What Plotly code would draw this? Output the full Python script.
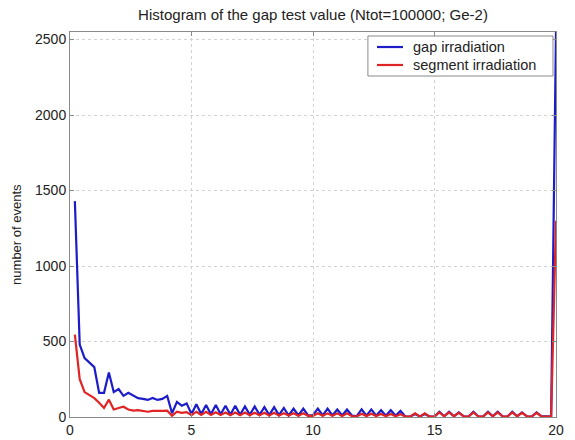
import plotly.graph_objects as go

x_bins = [0.2, 0.4, 0.6, 0.8, 1.0, 1.2, 1.4, 1.6, 1.8, 2.0,
          2.2, 2.4, 2.6, 2.8, 3.0, 3.2, 3.4, 3.6, 3.8, 4.0,
          4.2, 4.4, 4.6, 4.8, 5.0, 5.2, 5.4, 5.6, 5.8, 6.0,
          6.2, 6.4, 6.6, 6.8, 7.0, 7.2, 7.4, 7.6, 7.8, 8.0,
          8.2, 8.4, 8.6, 8.8, 9.0, 9.2, 9.4, 9.6, 9.8, 10.0,
          10.2, 10.4, 10.6, 10.8, 11.0, 11.2, 11.4, 11.6, 11.8, 12.0,
          12.2, 12.4, 12.6, 12.8, 13.0, 13.2, 13.4, 13.6, 13.8, 14.0,
          14.2, 14.4, 14.6, 14.8, 15.0, 15.2, 15.4, 15.6, 15.8, 16.0,
          16.2, 16.4, 16.6, 16.8, 17.0, 17.2, 17.4, 17.6, 17.8, 18.0,
          18.2, 18.4, 18.6, 18.8, 19.0, 19.2, 19.4, 19.6, 19.8, 20.0]

gap_irradiation = [1430, 480, 390, 360, 330, 160, 160, 295, 165, 185,
                   140, 160, 140, 125, 120, 113, 126, 113, 120, 140,
                   25, 100, 75, 90, 20, 85, 20, 80, 18, 80,
                   18, 75, 15, 75, 15, 70, 15, 70, 15, 65,
                   12, 65, 12, 60, 10, 55, 10, 55, 10, 12,
                   55, 10, 55, 10, 50, 10, 50, 10, 6, 50,
                   8, 50, 8, 45, 8, 45, 8, 40, 3, 3,
                   20, 3, 20, 3, 3, 35, 5, 35, 5, 30,
                   5, 3, 35, 5, 3, 35, 5, 35, 5, 3,
                   35, 5, 30, 5, 3, 30, 5, 3, 5, 2550]

segment_irradiation = [545, 250, 165, 145, 125, 95, 60, 115, 50, 60,
                       68, 50, 42, 45, 40, 35, 40, 38, 40, 42,
                       8, 35, 28, 32, 12, 35, 14, 35, 14, 32,
                       14, 30, 12, 30, 12, 30, 12, 28, 12, 28,
                       10, 28, 10, 25, 10, 25, 8, 25, 8, 8,
                       25, 8, 24, 8, 24, 6, 24, 6, 4, 22,
                       6, 22, 6, 20, 5, 20, 5, 18, 3, 3,
                       25, 3, 25, 3, 3, 30, 5, 30, 5, 28,
                       5, 3, 30, 5, 3, 30, 5, 30, 5, 3,
                       30, 5, 28, 5, 3, 28, 5, 3, 5, 1300]

series_names = ["gap irradiation", "segment irradiation"]
series_colors = ["#1c1cc8", "#e02424"]

x_ticks = [0, 5, 10, 15, 20]
y_ticks = [0, 500, 1000, 1500, 2000, 2500]

FONT = "Liberation Sans, Arial, sans-serif"

fig = go.Figure()
for name, ys, col in zip(series_names, [gap_irradiation, segment_irradiation], series_colors):
    fig.add_trace(go.Scatter(x=x_bins, y=ys, mode="lines", name=name,
                             line=dict(color=col, width=2.2)))

axis_common = dict(showline=True, linecolor="#8a8a8a", linewidth=1, mirror="ticks",
                   ticks="inside", ticklen=4, tickcolor="#8a8a8a",
                   showgrid=True, gridcolor="#d2d2d2", griddash="dot", gridwidth=1,
                   zeroline=False, automargin=False,
                   tickfont=dict(family=FONT, size=14, color="#222"))

fig.update_xaxes(range=[0, 20], tickvals=x_ticks, **axis_common)
fig.update_yaxes(range=[0, 2550], tickvals=y_ticks, **axis_common)

# legend box drawn in paper coordinates (matlab-style compact legend)
L_X0, L_X1, L_Y0, L_Y1 = 0.613, 0.9938, 0.8857, 0.9896
LINE_X0, LINE_X1, TEXT_X = 0.6317, 0.6852, 0.7037
ROW_Y = [0.961, 0.9143]

shapes = [dict(type="rect", xref="paper", yref="paper", x0=L_X0, x1=L_X1, y0=L_Y0, y1=L_Y1,
               line=dict(color="#8a8a8a", width=1), fillcolor="white", layer="above")]
annotations = [dict(text="number of events", textangle=-90,
                    xref="paper", yref="paper", x=-53 / 486, y=0.473,
                    xanchor="center", yanchor="middle", showarrow=False,
                    font=dict(family=FONT, size=13, color="#222"))]
for name, col, ry in zip(series_names, series_colors, ROW_Y):
    shapes.append(dict(type="line", xref="paper", yref="paper", x0=LINE_X0, x1=LINE_X1,
                       y0=ry, y1=ry, line=dict(color=col, width=2.2), layer="above"))
    annotations.append(dict(text=name, xref="paper", yref="paper", x=TEXT_X, y=ry,
                            xanchor="left", yanchor="middle", showarrow=False, borderpad=0,
                            font=dict(family=FONT, size=14.5, color="#222")))

fig.update_layout(
    width=575, height=440,
    margin=dict(l=70, r=19, t=32, b=23, autoexpand=False),
    paper_bgcolor="white", plot_bgcolor="white",
    title=dict(text="Histogram of the gap test value (Ntot=100000; Ge-2)",
               x=(70 + 556) / 2 / 575, xanchor="center", y=1 - 15 / 440, yanchor="middle",
               font=dict(family=FONT, size=15, color="#222")),
    showlegend=False,
    shapes=shapes,
    annotations=annotations,
)

fig.write_html("out.html")
